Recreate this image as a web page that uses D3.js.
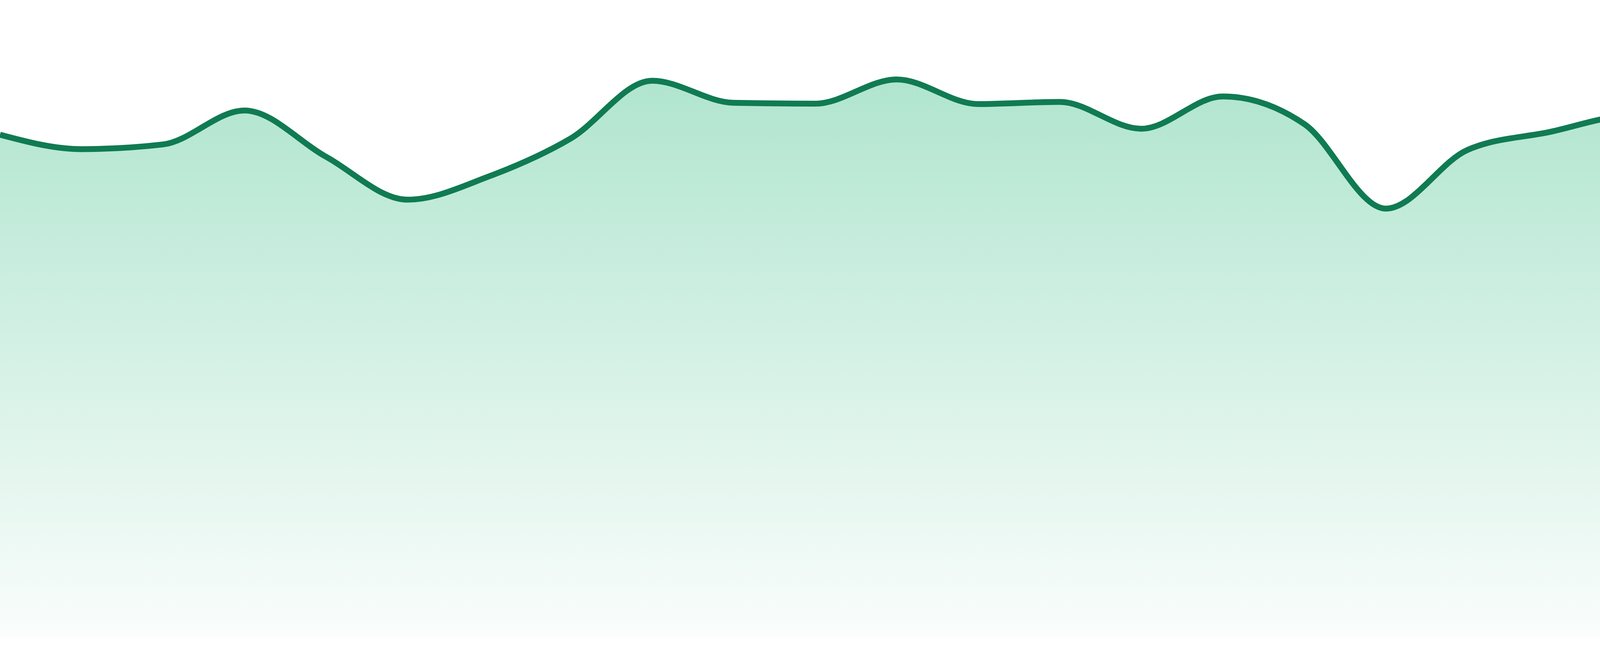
<!DOCTYPE html>
<html>
<head>
<meta charset="utf-8">
<script src="https://cdn.jsdelivr.net/npm/d3@7/dist/d3.min.js"></script>
<style>
  html, body { margin: 0; padding: 0; background: #ffffff; }
  svg { display: block; }
</style>
</head>
<body>
<div id="chart"></div>
<script>
// ---- data ----
const categories = ["00:00","01:00","02:00","03:00","04:00","05:00","06:00","07:00",
  "08:00","09:00","10:00","11:00","12:00","13:00","14:00","15:00",
  "16:00","17:00","18:00","19:00","20:00","21:00","22:00","23:00"];
const values = [118.3, 114.9, 116.0, 124.0, 113.1, 103.0, 108.5, 117.4,
  131.0, 125.8, 125.6, 131.3, 125.5, 126.0, 119.7, 127.3,
  120.8, 100.9, 114.7, 118.9, 122.7, 120.0, 120.4, 120.7];
const yDomain = [0, 150];

// ---- layout ----
const W = 4800, H = 1680;
const plotBottom = 1632;

const svg = d3.select("#chart").append("svg")
  .attr("width", W).attr("height", H)
  .attr("viewBox", `0 0 ${W} ${H}`);

const x = d3.scalePoint().domain(categories).range([0, W]);
const y = d3.scaleLinear().domain(yDomain).range([plotBottom, 0]);

const data = categories.map((c, i) => ({ c, v: values[i] }));

const defs = svg.append("defs");
const grad = defs.append("linearGradient")
  .attr("id", "areaFill")
  .attr("gradientUnits", "userSpaceOnUse")
  .attr("x1", 0).attr("y1", y(d3.max(values)))
  .attr("x2", 0).attr("y2", plotBottom);
grad.append("stop").attr("offset", "0%").attr("stop-color", "#b0e5cf");
grad.append("stop").attr("offset", "100%").attr("stop-color", "#fafdfc");

const area = d3.area()
  .x(d => x(d.c))
  .y0(plotBottom)
  .y1(d => y(d.v))
  .curve(d3.curveMonotoneX);

const line = d3.line()
  .x(d => x(d.c))
  .y(d => y(d.v))
  .curve(d3.curveMonotoneX);

svg.append("path")
  .datum(data)
  .attr("d", area)
  .attr("fill", "url(#areaFill)");

svg.append("path")
  .datum(data)
  .attr("d", line)
  .attr("fill", "none")
  .attr("stroke", "#107b52")
  .attr("stroke-width", 15)
  .attr("stroke-linejoin", "round");
</script>
</body>
</html>
